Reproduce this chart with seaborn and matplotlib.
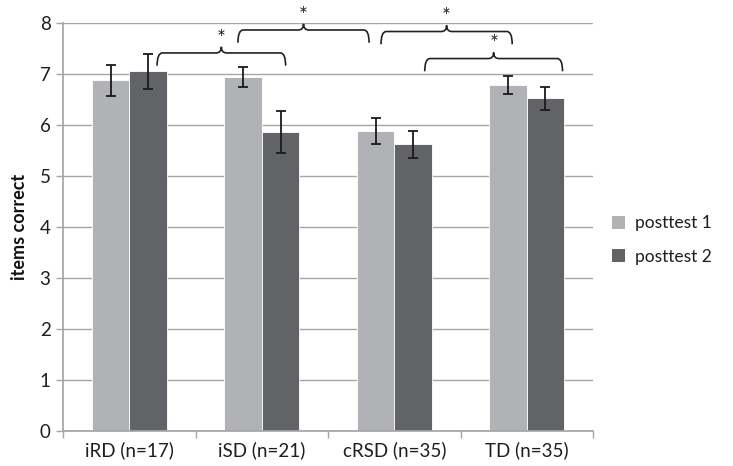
import numpy as np
import pandas as pd
import seaborn as sns
import matplotlib
matplotlib.use('Agg')
import matplotlib.pyplot as plt
from matplotlib.path import Path
from matplotlib.patches import PathPatch

groups = ['iRD (n=17)', 'iSD (n=21)', 'cRSD (n=35)', 'TD (n=35)']
tests = ['posttest 1', 'posttest 2']
post1 = [6.87, 6.94, 5.88, 6.78]
post2 = [7.05, 5.86, 5.62, 6.52]
err1 = [0.30, 0.20, 0.25, 0.17]
err2 = [0.34, 0.42, 0.27, 0.22]
# significance braces: (x start, x end, y of brace, label)
braces = [(0.21, 1.18, 7.41, '*'),
          (0.82, 1.81, 7.86, '*'),
          (1.90, 2.89, 7.83, '*'),
          (2.23, 3.27, 7.30, '*')]

df = pd.DataFrame({
    'group': groups * 2,
    'test': [tests[0]] * 4 + [tests[1]] * 4,
    'score': post1 + post2,
    'err': err1 + err2,
})

sns.set_theme(style='white')
plt.rcParams['font.family'] = ['Lato', 'DejaVu Sans']

fig = plt.figure(figsize=(7.33, 4.66), dpi=100)
ax = fig.add_axes([0.086, 0.075, 0.723, 0.876])

palette = {'posttest 1': '#b1b2b6', 'posttest 2': '#626366'}
sns.barplot(data=df, x='group', y='score', hue='test', order=groups,
            hue_order=tests, palette=palette, width=0.566, gap=0,
            errorbar=None, saturation=1, edgecolor='white', linewidth=0.6,
            ax=ax, zorder=2)

# error bars placed on the bar centres
for cont, errs in zip(ax.containers, [err1, err2]):
    xs = [b.get_x() + b.get_width() / 2 for b in cont]
    ys = [b.get_height() for b in cont]
    ax.errorbar(xs, ys, yerr=errs, fmt='none', ecolor='#1a1a1a',
                elinewidth=1.3, capsize=3.5, capthick=1.3, zorder=3)

ax.set_ylim(0, 8)
ax.set_xlim(-0.5, 3.5)
ax.set_yticks(range(0, 9))
ax.yaxis.grid(True, color='#a6a6a6', linewidth=1.0, zorder=0)
ax.set_axisbelow(True)
for s in ['top', 'right']:
    ax.spines[s].set_visible(False)
ax.spines['left'].set_color('#a6a6a6')
ax.spines['bottom'].set_color('#a6a6a6')
ax.tick_params(axis='y', length=5, color='#a6a6a6', width=1.0,
               labelsize=13.5, labelcolor='#1e1e1e', pad=4, left=True)
ax.tick_params(axis='x', which='major', length=0, labelsize=13.5,
               labelcolor='#1e1e1e', pad=7)
ax.set_xticks(np.arange(-0.5, 4.0, 1.0), minor=True)
ax.tick_params(axis='x', which='minor', length=5, color='#a6a6a6',
               width=1.0, bottom=True)
ax.set_xlabel('')
ax.set_ylabel('items correct', fontsize=13, fontweight='bold',
              color='#111111', labelpad=8)

# curly braces with stars
def brace(x0, x1, y, label):
    dx = 0.04
    dy = 0.25
    tip = 0.12
    xc = (x0 + x1) / 2
    verts = [(x0, y - dy), (x0, y), (x0 + dx, y),
             (xc - dx, y), (xc, y), (xc, y + tip),
             (xc, y), (xc + dx, y),
             (x1 - dx, y), (x1, y), (x1, y - dy)]
    codes = [Path.MOVETO, Path.CURVE3, Path.CURVE3,
             Path.LINETO, Path.CURVE3, Path.CURVE3,
             Path.CURVE3, Path.CURVE3,
             Path.LINETO, Path.CURVE3, Path.CURVE3]
    p = PathPatch(Path(verts, codes), facecolor='none', edgecolor='#222222',
                  linewidth=1.2, clip_on=False, zorder=4)
    ax.add_patch(p)
    ax.text(xc, y + tip - 0.04, label, ha='center', va='bottom',
            fontsize=15, color='#222222', clip_on=False)

for b in braces:
    brace(*b)

leg = ax.legend(loc='center left', bbox_to_anchor=(1.035, 0.468),
                frameon=False, borderaxespad=0, borderpad=0,
                fontsize=12.5, handlelength=0.8, handleheight=0.8,
                handletextpad=0.55, labelspacing=1.0)
for h in leg.legend_handles:
    h.set_edgecolor('none')
for t in leg.get_texts():
    t.set_color('#1e1e1e')

fig.savefig('out.png', dpi=100)
